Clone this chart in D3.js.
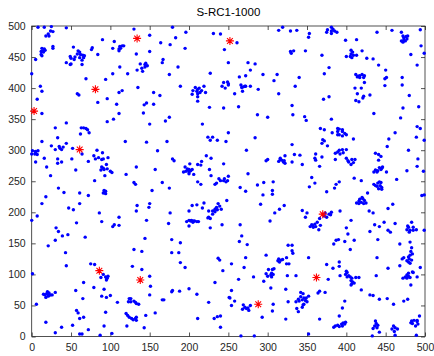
<!DOCTYPE html>
<html>
<head>
<meta charset="utf-8">
<script src="https://cdn.jsdelivr.net/npm/d3@7"></script>
<style>
  body { margin: 0; background: #fff; }
  svg { display: block; font-family: "Liberation Sans", Arial, sans-serif; }
</style>
</head>
<body>
<div id="chart"></div>
<script>
////////////////////////////////////////////////
// data

var title = "S-RC1-1000";
var xTicks = [0, 50, 100, 150, 200, 250, 300, 350, 400, 450, 500];
var yTicks = [0, 50, 100, 150, 200, 250, 300, 350, 400, 450, 500];

// red stars
var depots = [[134,480],[252,476],[81,398],[3,363],[61,301],[370,197],[86,106],[138,91],[288,52],[362,95]];

// blue dots
var customers = [
[8,498],[16,498],[25,499],[24,492],[27,491],[21,487],[18,484],[22,484],[44,497],[90,478],[105,475],[112,467],[115,468],[117,468],[111,463],[111,460],[113,464],[103,464],[77,465],[76,462],[13,464],[16,463],[14,460],[17,461],[12,459],[15,458],[12,454],[13,452],[27,467],[27,464],[5,446],[53,466],[59,460],[61,458],[58,455],[62,454],[65,453],[67,452],[66,449],[61,449],[55,450],[54,446],[50,448],[49,451],[64,445],[44,441],[49,438],[50,439],[64,438],[84,454],[112,434],[0,423],[103,423],[122,423],[69,415],[94,414],[11,403],[13,395],[58,391],[60,389],[115,396],[111,393],[7,382],[96,383],[84,377],[108,374],[13,359],[111,359],[104,350],[96,346],[44,344],[30,336],[63,336],[66,336],[69,335],[71,333],
[130,495],[179,498],[196,490],[231,488],[240,487],[150,485],[183,481],[164,473],[176,470],[195,464],[245,462],[150,459],[133,455],[167,446],[166,441],[138,439],[145,440],[147,436],[144,434],[140,432],[141,427],[134,429],[144,438],[186,434],[250,441],[175,422],[227,424],[244,409],[249,410],[250,407],[242,403],[246,400],[250,405],[135,401],[189,403],[208,401],[211,398],[213,400],[216,396],[210,395],[205,396],[214,393],[219,403],[204,390],[211,391],[221,393],[211,386],[155,393],[163,388],[211,379],[146,376],[143,373],[155,374],[226,369],[244,368],[142,360],[175,353],[170,347],[150,342],[217,342],
[319,498],[314,493],[329,492],[337,493],[376,494],[375,490],[353,488],[352,482],[261,473],[329,459],[330,456],[333,460],[348,460],[369,453],[275,441],[284,439],[378,433],[278,429],[372,423],[264,418],[272,420],[294,422],[312,422],[340,417],[308,412],[266,405],[269,402],[267,401],[271,403],[272,403],[278,403],[268,395],[288,398],[335,403],[258,391],[314,391],[378,386],[371,382],[263,370],[331,372],[287,357],[300,353],[332,357],[347,354],[349,348],[367,335],[372,333],
[381,498],[383,495],[381,492],[385,492],[388,490],[381,488],[439,490],[458,493],[470,490],[494,494],[472,484],[473,481],[476,483],[478,484],[477,479],[473,477],[470,476],[475,476],[472,474],[399,477],[413,478],[495,468],[499,456],[406,461],[408,458],[406,455],[409,453],[405,451],[407,449],[413,453],[420,460],[400,451],[426,448],[434,447],[482,454],[490,437],[441,437],[450,429],[412,422],[415,419],[417,420],[420,422],[423,420],[417,417],[422,417],[414,418],[451,417],[449,415],[471,417],[423,409],[449,404],[471,405],[411,400],[419,400],[414,391],[422,387],[430,389],[421,384],[480,388],[412,380],[416,378],[492,370],[472,368],[435,359],[469,352],[381,350],[490,338],[494,335],[389,335],[391,334],[395,333],
[62,326],[73,328],[33,320],[13,314],[25,307],[35,306],[36,303],[40,305],[38,301],[30,301],[44,311],[52,303],[1,299],[5,298],[8,299],[0,294],[4,294],[7,293],[5,295],[16,287],[33,286],[51,286],[5,281],[33,279],[38,281],[64,294],[83,300],[90,296],[79,291],[81,286],[85,288],[89,285],[91,286],[97,288],[72,282],[95,277],[89,273],[91,271],[88,268],[92,269],[96,270],[100,266],[102,264],[19,273],[56,268],[24,259],[93,259],[120,261],[119,314],[80,251],[34,239],[41,232],[61,231],[92,235],[94,234],[91,231],[94,230],[93,233],[72,227],[18,225],[13,214],[61,214],[47,207],[53,204],[86,199],[7,194],[111,192],[0,187],[89,185],[105,180],[111,179],[103,177],[57,183],[31,175],[34,169],[46,164],
[250,328],[224,321],[230,321],[227,316],[236,316],[247,314],[146,313],[172,314],[160,299],[179,286],[181,283],[222,291],[228,287],[216,282],[211,277],[215,276],[195,273],[201,278],[198,270],[200,269],[204,269],[196,266],[200,265],[202,267],[193,265],[200,262],[199,268],[206,261],[133,273],[157,269],[226,269],[244,278],[228,259],[238,254],[250,258],[245,254],[244,251],[240,251],[247,249],[249,251],[235,247],[233,245],[211,249],[215,245],[130,248],[132,245],[166,248],[175,239],[153,235],[248,219],[219,215],[210,212],[204,211],[237,214],[239,210],[235,208],[233,205],[236,204],[241,205],[233,201],[230,202],[225,202],[217,207],[200,202],[230,197],[134,211],[150,214],[149,208],[133,202],[176,199],[225,192],[227,190],[224,191],[146,187],[174,182],[200,187],[202,186],[205,186],[207,186],[210,185],[212,185],[205,184],[197,185],[203,187],[200,178],[227,175],[242,180],
[284,320],[273,300],[331,309],[370,317],[372,315],[376,307],[369,311],[298,283],[300,285],[314,282],[316,287],[318,284],[320,281],[322,279],[321,283],[316,285],[322,291],[331,281],[334,293],[341,292],[344,277],[361,294],[360,287],[361,284],[366,274],[369,289],[275,262],[356,256],[360,247],[353,241],[265,240],[272,234],[287,244],[295,248],[307,249],[294,228],[306,235],[306,229],[375,233],[291,213],[321,211],[315,205],[309,199],[303,186],[344,203],[350,199],[348,192],[366,190],[373,199],[375,192],[378,197],[372,194],[354,177],[357,179],[360,181],[361,177],[363,184],[358,176],[365,172],[367,179],[356,180],[265,180],
[382,328],[389,330],[395,330],[398,327],[389,325],[391,325],[395,323],[400,325],[409,318],[462,328],[454,318],[489,321],[499,316],[452,306],[479,300],[391,300],[395,301],[400,301],[389,297],[386,295],[392,294],[396,296],[437,295],[441,293],[444,290],[386,285],[491,286],[400,287],[402,283],[403,281],[406,277],[407,285],[411,285],[409,280],[441,284],[490,274],[442,272],[445,271],[446,273],[444,269],[437,268],[440,267],[439,265],[435,265],[451,265],[477,267],[498,266],[410,255],[419,251],[464,253],[391,249],[387,245],[385,239],[435,245],[440,247],[442,249],[444,248],[443,243],[439,242],[445,240],[445,237],[441,238],[437,243],[427,231],[496,227],[499,228],[421,222],[423,219],[417,221],[416,218],[419,216],[413,215],[422,214],[425,215],[416,214],[420,224],[459,213],[453,206],[429,202],[434,199],[392,202],[381,200],[380,196],[406,187],[448,184],[462,182],[483,184],[436,180],[442,177],[400,175],[453,171],[456,168],[478,178],[479,176],[477,172],[481,171],[485,176],[485,171],[489,172],[499,171],[480,168],[430,169],[402,165],
[30,155],[39,162],[68,160],[21,146],[43,135],[44,114],[75,117],[80,116],[1,101],[88,95],[91,100],[94,96],[96,94],[97,97],[95,91],[95,95],[66,87],[79,79],[92,76],[56,74],[15,68],[17,67],[19,69],[20,72],[22,66],[22,70],[24,67],[26,67],[18,63],[21,65],[30,71],[65,61],[89,65],[95,63],[100,66],[6,52],[109,55],[124,61],[123,56],[57,42],[59,38],[66,31],[61,29],[94,39],[120,37],[122,34],[124,31],[18,23],[52,18],[38,15],[92,17],[121,17],[72,11],[30,6],[61,4],[64,4],[87,2],[102,5],
[144,158],[178,156],[189,151],[130,140],[140,137],[178,135],[187,135],[189,119],[195,111],[128,113],[140,108],[237,126],[239,123],[243,106],[150,97],[233,87],[151,81],[200,77],[178,72],[179,74],[188,73],[210,68],[150,67],[126,61],[126,56],[130,57],[132,55],[133,53],[136,52],[166,59],[168,59],[225,55],[251,63],[145,34],[157,38],[127,29],[129,27],[133,31],[133,26],[132,29],[211,29],[232,29],[236,32],[240,33],[143,14],[240,15],
[267,162],[264,153],[274,148],[326,147],[331,147],[331,138],[332,134],[272,127],[298,131],[314,125],[317,123],[319,124],[315,120],[313,122],[324,127],[352,127],[254,117],[270,111],[324,117],[327,117],[375,116],[301,108],[306,108],[308,109],[298,101],[305,102],[307,100],[300,97],[305,96],[304,99],[282,96],[325,98],[336,98],[263,92],[295,89],[377,92],[304,78],[323,76],[366,73],[364,70],[373,71],[254,74],[342,71],[345,69],[342,64],[339,60],[346,62],[349,62],[344,59],[340,57],[348,58],[350,56],[345,51],[344,47],[346,52],[352,65],[326,56],[336,56],[252,62],[258,57],[254,50],[269,51],[271,47],[268,44],[273,45],[275,46],[276,42],[278,50],[307,52],[306,41],[337,45],[339,40],[293,31],[323,28],[366,28],[266,1],[283,1],[352,4],
[387,155],[390,156],[384,149],[398,153],[410,155],[440,156],[468,149],[481,152],[405,140],[483,143],[482,137],[484,133],[481,131],[479,128],[480,125],[477,122],[483,123],[479,120],[481,118],[473,127],[471,125],[439,127],[391,120],[391,113],[383,110],[400,105],[401,103],[399,100],[392,98],[403,98],[405,96],[407,94],[406,90],[408,88],[407,85],[410,86],[406,83],[412,95],[416,95],[401,96],[453,110],[468,114],[494,111],[484,104],[485,103],[479,102],[477,99],[475,96],[472,94],[479,97],[477,94],[481,95],[490,96],[438,98],[482,83],[419,75],[430,67],[434,66],[442,60],[452,61],[460,52],[478,60],[473,57],[398,57],[395,46],[391,33],[493,33],[386,17],[389,18],[384,15],[391,16],[394,20],[396,22],[398,20],[395,17],[399,23],[437,25],[438,21],[436,17],[439,14],[434,13],[440,18],[442,7],[433,1],[460,17],[462,14],[458,12],[465,12],[461,8],[462,2],[483,25],[486,26],[490,24],[491,20],[484,21],[488,17],[482,22],[490,26],[489,2]
];

////////////////////////////////////////////////
// layout

var w = 434;
var h = 356;
var axisColor = '#262626';

var svg = d3.select('#chart')
    .append('svg')
    .attr('width', w)
    .attr('height', h);

var x = d3.scaleLinear().domain([0, 500]).range([31.7, 425]);
var y = d3.scaleLinear().domain([0, 500]).range([336.5, 26]);

////////////////////////////////////////////////
// axes, MATLAB style: box with inward ticks on all four sides

function styleAxis(g){
    g.select('.domain').remove();
    g.selectAll('line').attr('stroke', axisColor).attr('stroke-width', 0.8);
    g.selectAll('text')
        .attr('fill', axisColor)
        .attr('font-size', '10.5px')
        .attr('font-family', '"Liberation Sans", Arial, sans-serif');
}

svg.append('g')
    .attr('transform', 'translate(0,' + y(0) + ')')
    .call(d3.axisBottom(x).tickValues(xTicks).tickSize(-4).tickPadding(7))
    .call(styleAxis);

svg.append('g')
    .attr('transform', 'translate(0,' + y(500) + ')')
    .call(d3.axisTop(x).tickValues(xTicks).tickSize(-4).tickFormat(''))
    .call(styleAxis);

svg.append('g')
    .attr('transform', 'translate(' + x(0) + ',0)')
    .call(d3.axisLeft(y).tickValues(yTicks).tickSize(-4).tickPadding(6))
    .call(styleAxis);

svg.append('g')
    .attr('transform', 'translate(' + x(500) + ',0)')
    .call(d3.axisRight(y).tickValues(yTicks).tickSize(-4).tickFormat(''))
    .call(styleAxis);

svg.append('rect')
    .attr('x', x(0))
    .attr('y', y(500))
    .attr('width', x(500) - x(0))
    .attr('height', y(0) - y(500))
    .attr('fill', 'none')
    .attr('stroke', axisColor)
    .attr('stroke-width', 0.8);

////////////////////////////////////////////////
// points

svg.append('g').selectAll('circle')
    .data(customers)
    .enter()
    .append('circle')
        .attr('cx', function(d){ return x(d[0]); })
        .attr('cy', function(d){ return y(d[1]); })
        .attr('r', 1.7)
        .attr('fill', 'rgb(0,0,255)');

function star(d){
    var cx = x(d[0]), cy = y(d[1]);
    var r = 4, q = r * 0.72;
    return 'M' + (cx - r) + ',' + cy + 'h' + (2 * r) +
        'M' + cx + ',' + (cy - r) + 'v' + (2 * r) +
        'M' + (cx - q) + ',' + (cy - q) + 'l' + (2 * q) + ',' + (2 * q) +
        'M' + (cx - q) + ',' + (cy + q) + 'l' + (2 * q) + ',' + (-2 * q);
}

svg.append('g').selectAll('path')
    .data(depots)
    .enter()
    .append('path')
        .attr('d', star)
        .attr('stroke', 'rgb(255,0,0)')
        .attr('stroke-width', 1.1)
        .attr('fill', 'none');

////////////////////////////////////////////////
// title

svg.append('text')
    .attr('x', (x(0) + x(500)) / 2)
    .attr('y', 16)
    .attr('text-anchor', 'middle')
    .attr('font-size', '11.5px')
    .attr('fill', '#000')
    .text(title);
</script>
</body>
</html>
